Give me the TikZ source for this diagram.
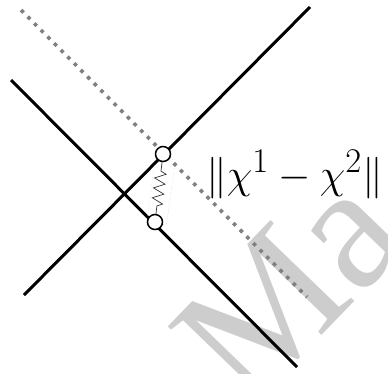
\documentclass[tikz,border=0pt]{standalone}
\usepackage{graphicx}
\usepackage{fontspec}
\newfontfamily\markfont{Liberation Serif}
\usetikzlibrary{decorations.pathmorphing}
\definecolor{dotcol}{RGB}{128,128,128}
\definecolor{markcol}{RGB}{205,205,205}
\tikzset{
  axis/.style={line width=3pt, black},
  trace/.style={line width=3.6pt, dotcol, dash pattern=on 3.6pt off 5.8pt},
  joint/.style={circle, draw, line width=1.5pt, fill=white, minimum size=15pt, inner sep=0pt},
  spring/.style={decorate, decoration={zigzag, segment length=10pt, amplitude=5.5pt, pre length=9pt, post length=6pt}, line width=0.7pt, black!80},
  frame/.style={line width=0.4pt, black!30, dotted},
}
\begin{document}
\begin{tikzpicture}[x=1pt, y=-1pt]
  \useasboundingbox (0,0) rectangle (388,373);
  \node[font=\markfont\fontsize{178}{178}\selectfont, text=markcol, rotate=46, anchor=base west, inner sep=0pt] (mark) at (248,412) {Ma};
  \coordinate (a1) at (24,295);
  \coordinate (a2) at (310,7);
  \coordinate (b1) at (11,80);
  \coordinate (b2) at (297,367);
  \coordinate (c1) at (21,10);
  \coordinate (c2) at (307,297);
  \draw[trace] (c1) -- (c2);
  \draw[axis] (a1) -- (a2);
  \draw[axis] (b1) -- (b2);
  \draw[frame] (155.6,156.9) -- (175.4,159.7) -- (166.4,225.1) -- (146.6,222.3) -- cycle;
  \node[joint] (p1) at (163,154) {};
  \node[joint] (p2) at (155,222) {};
  \draw[spring] (p1) -- (p2);
  \node[anchor=base west, inner sep=0pt, font=\fontsize{24.88}{30}\selectfont] (dist) at (206,188) {\scalebox{1.67}{$\|\chi^1-\chi^2\|$}};
\end{tikzpicture}
\end{document}
